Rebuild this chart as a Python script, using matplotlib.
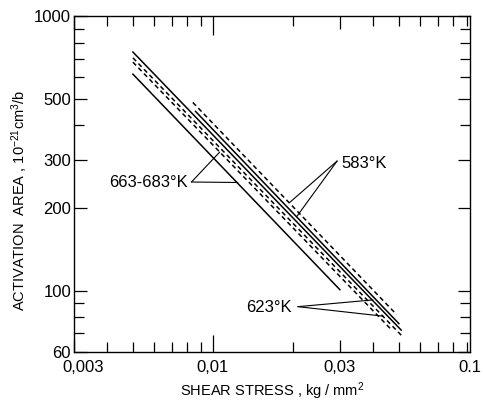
import matplotlib
matplotlib.use("Agg")
import matplotlib.pyplot as plt
from matplotlib.ticker import FixedLocator, FixedFormatter, NullFormatter
from matplotlib.transforms import ScaledTranslation

plt.rcParams['font.family'] = ['Liberation Sans', 'DejaVu Sans']
plt.rcParams['mathtext.default'] = 'regular'

# Activation area vs shear stress, straight lines on log-log axes (endpoints)
series_names = ["583 dashed", "583 solid", "623 solid", "623 dashed",
                "663-683 dashed", "663-683 solid"]
x_start = [0.0084, 0.0086, 0.0050, 0.0050, 0.0050, 0.0050]
x_end = [0.049, 0.050, 0.051, 0.051, 0.047, 0.030]
area_start = [485, 450, 740, 705, 680, 615]
area_end = [82, 76, 72, 69, 72, 101]
styles = ["dashed", "solid", "solid", "dashed", "dashed", "solid"]

x_ticks = [0.003, 0.01, 0.03]
x_tick_labels = ["0,003", "0,01", "0,03"]
x_end_label = "0.1"
y_ticks = [60, 100, 200, 300, 500, 1000]
y_tick_labels = ["60", "100", "200", "300", "500", "1000"]

fig = plt.figure(figsize=(4.83, 4.03), dpi=100)
ax = fig.add_axes([0.153, 0.127, 0.820, 0.833])
ax.set_xscale("log")
ax.set_yscale("log")
ax.set_xlim(0.003, 0.0925)
ax.set_ylim(60, 1000)

for xs, xe, ys, ye, st in zip(x_start, x_end, area_start, area_end, styles):
    if st == "dashed":
        ax.plot([xs, xe], [ys, ye], color="black", lw=1.1, linestyle=(0, (3.0, 2.2)))
    else:
        ax.plot([xs, xe], [ys, ye], color="black", lw=1.1)

ax.xaxis.set_major_locator(FixedLocator(x_ticks))
ax.xaxis.set_major_formatter(FixedFormatter(x_tick_labels))
ax.xaxis.set_minor_locator(FixedLocator([0.004, 0.005, 0.006, 0.007, 0.008, 0.009,
                                         0.02, 0.04, 0.05, 0.06, 0.07, 0.08, 0.09]))
ax.xaxis.set_minor_formatter(NullFormatter())
ax.yaxis.set_major_locator(FixedLocator(y_ticks))
ax.yaxis.set_major_formatter(FixedFormatter(y_tick_labels))
ax.yaxis.set_minor_locator(FixedLocator([70, 80, 90, 400, 600, 700, 800, 900]))
ax.yaxis.set_minor_formatter(NullFormatter())

ax.tick_params(which="both", direction="in", top=True, right=True,
               labelsize=12, width=0.9, colors="black")
ax.tick_params(axis="x", which="both", pad=6)
ax.tick_params(axis="y", which="both", pad=2)
ax.tick_params(which="major", length=9)
ax.tick_params(which="minor", length=7.5)
# longer decade mark at 0.01
t = ax.xaxis.get_major_ticks()[1]
t.tick1line.set_markersize(12)
t.tick2line.set_markersize(14)
# nudge the corner label clear of the y-axis labels
first = ax.xaxis.get_major_ticks()[0].label1
first.set_transform(first.get_transform() + ScaledTranslation(9 / 100, 0, fig.dpi_scale_trans))
for sp in ax.spines.values():
    sp.set_linewidth(1.0)

ax.annotate(x_end_label, xy=(1.0, 0.0), xycoords="axes fraction",
            xytext=(0, -6), textcoords="offset points", ha="center", va="top",
            fontsize=12)

ax.set_xlabel("SHEAR STRESS , kg / mm$^{2}$", fontsize=10.5, labelpad=4)
ax.set_ylabel("ACTIVATION  AREA , 10$^{-21}$cm$^{3}$/b", fontsize=10.5)
ax.yaxis.set_label_coords(-0.11, 0.45)

# temperature annotations
lw_a = 0.8
ax.annotate("583°K", xy=(0.01945, 210), xytext=(0.0305, 292), fontsize=12,
            va="center", ha="left")
for tx, ty in [(0.01945, 210), (0.0207, 187)]:
    ax.annotate("", xy=(tx, ty), xytext=(0.0293, 297),
                arrowprops=dict(arrowstyle="-", lw=lw_a, shrinkA=0, shrinkB=0))
ax.annotate("663-683°K", xy=(0.0106, 320), xytext=(0.00805, 249), fontsize=12,
            va="center", ha="right")
for tx, ty in [(0.0106, 320), (0.0124, 248)]:
    ax.annotate("", xy=(tx, ty), xytext=(0.0083, 249),
                arrowprops=dict(arrowstyle="-", lw=lw_a, shrinkA=0, shrinkB=0))
ax.annotate("623°K", xy=(0.0399, 92.7), xytext=(0.0198, 86.7), fontsize=12,
            va="center", ha="right")
for tx, ty in [(0.0399, 92.7), (0.0436, 80.9)]:
    ax.annotate("", xy=(tx, ty), xytext=(0.02085, 87.6),
                arrowprops=dict(arrowstyle="-", lw=lw_a, shrinkA=0, shrinkB=0))

fig.savefig("out.png", dpi=100, facecolor="white")
